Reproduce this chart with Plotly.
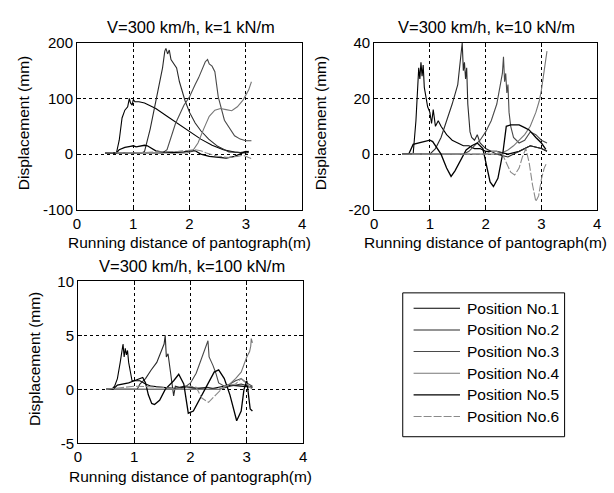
import plotly.graph_objects as go

W, H = 614, 493

# ---------------- data ----------------
SERIES_NAMES = ["Position No.1", "Position No.2", "Position No.3",
                "Position No.4", "Position No.5", "Position No.6"]
X_TICKS = [0, 1, 2, 3, 4]
X_TICK_TEXT = ["0", "1", "2", "3", "4"]

TITLES = ["V=300 km/h, k=1 kN/m", "V=300 km/h, k=10 kN/m", "V=300 km/h, k=100 kN/m"]
X_LABEL = "Running distance of pantograph(m)"
Y_LABEL = "Displacement (mm)"

# k = 1 kN/m
K1_Y_TICKS = [-100, 0, 100, 200]
K1_Y_TICK_TEXT = ["-100", "0", "100", "200"]
K1_X1 = [0.5, 0.7, 0.75, 0.8, 0.85, 0.9, 0.93, 0.95, 0.98, 1.0, 1.03, 1.1, 1.2, 1.4, 1.6, 1.8, 2.0, 2.2, 2.4, 2.6, 2.8, 3.0, 3.05]
K1_Y1 = [2, 2, 25, 65, 79, 85, 100, 92, 88, 98, 94, 94, 92, 82, 68, 54, 40, 27, 16, 8, 4, 2, 3]
K1_X2 = [0.5, 1.15, 1.2, 1.3, 1.38, 1.45, 1.52, 1.56, 1.58, 1.61, 1.64, 1.67, 1.72, 1.77, 1.82, 1.92, 2.0, 2.1, 2.2, 2.34, 2.5, 2.7, 2.9, 3.05]
K1_Y2 = [2, 2, 5, 45, 85, 120, 155, 185, 190, 180, 187, 170, 162, 155, 130, 96, 75, 56, 42, 27, 14, 4, 3, 5]
K1_X3 = [0.5, 1.52, 1.6, 1.75, 1.9, 2.0, 2.1, 2.16, 2.28, 2.32, 2.35, 2.4, 2.45, 2.51, 2.62, 2.7, 2.8, 2.9, 3.0, 3.1]
K1_Y3 = [2, 2, 8, 55, 88, 103, 125, 137, 166, 170, 162, 158, 148, 103, 61, 48, 33, 27, 24, 24]
K1_X4 = [0.5, 1.95, 2.05, 2.15, 2.25, 2.35, 2.45, 2.55, 2.65, 2.75, 2.85, 2.95, 3.05, 3.1]
K1_Y4 = [2, 2, 5, 20, 45, 68, 79, 82, 80, 78, 85, 97, 115, 130]
K1_X5 = [0.5, 0.7, 0.75, 0.85, 0.95, 1.0, 1.05, 1.15, 1.2, 1.25, 1.3, 1.4, 1.5, 1.7, 1.9, 2.0, 2.1, 2.2, 2.35, 2.5, 2.65, 2.8, 2.9, 3.0, 3.05]
K1_Y5 = [2, 2, 8, 12, 14, 15, 13, 15, 16, 15, 12, 6, 4, 3, 4, 6, 6, 0, -4, -6, -7, -4, 0, 5, 4]
K1_X6 = [0.5, 0.8, 1.0, 1.2, 1.4, 1.6, 1.8, 2.0, 2.1, 2.2, 2.3, 2.5, 2.7, 2.85, 2.95, 3.05, 3.1]
K1_Y6 = [2, 2, 3, 3, 4, 4, 5, 7, 8, 6, 2, -4, -6, -4, -2, -6, -8]

# k = 10 kN/m
K10_Y_TICKS = [-20, 0, 20, 40]
K10_Y_TICK_TEXT = ["-20", "0", "20", "40"]
K10_X1 = [0.5, 0.7, 0.75, 0.78, 0.8, 0.82, 0.84, 0.86, 0.88, 0.9, 0.93, 0.96, 1.0, 1.03, 1.06, 1.1, 1.15, 1.2, 1.3, 1.4, 1.5, 1.6, 1.7, 1.8, 1.9, 2.0, 2.2, 2.4, 2.6, 2.8, 3.0, 3.1]
K10_Y1 = [0, 0, 12, 25, 31, 27, 33, 28, 32, 24, 20, 17, 15, 11, 16, 10, 12, 10, 7, 5, 4, 3, 3, 2, 2, 1, 1, 0, 1, 3, 2, 1]
K10_X2 = [0.5, 1.0, 1.1, 1.2, 1.3, 1.4, 1.5, 1.54, 1.58, 1.6, 1.62, 1.64, 1.66, 1.68, 1.7, 1.72, 1.75, 1.8, 1.85, 1.9, 2.0, 2.2, 2.4, 2.6, 2.8, 3.0, 3.1]
K10_Y2 = [0, 0, 2, 6, 12, 18, 25, 33, 40, 30, 33, 27, 31, 18, 12, 8, 6, 5, 7, 4, 2, 0, -1, 1, 3, 2, 1]
K10_X3 = [0.5, 1.6, 1.7, 1.8, 1.9, 2.0, 2.1, 2.2, 2.25, 2.3, 2.32, 2.34, 2.36, 2.38, 2.4, 2.42, 2.45, 2.5, 2.6, 2.7, 2.8, 2.9, 3.0, 3.1]
K10_Y3 = [0, 0, 1, 3, 5, 8, 12, 18, 24, 29, 35, 26, 29, 22, 25, 15, 10, 6, 4, 5, 8, 7, 5, 4]
K10_X4 = [0.5, 2.2, 2.3, 2.4, 2.5, 2.6, 2.7, 2.8, 2.9, 2.96, 3.0, 3.05, 3.1]
K10_Y4 = [0, 0, 0.5, 1.5, 3, 5, 7, 10, 15, 19, 23, 30, 37]
K10_X5 = [0.5, 0.62, 0.7, 0.8, 0.9, 1.0, 1.05, 1.1, 1.2, 1.3, 1.38, 1.45, 1.55, 1.65, 1.75, 1.85, 1.95, 2.02, 2.08, 2.14, 2.22, 2.31, 2.37, 2.45, 2.6, 2.7, 2.78, 2.9, 3.0, 3.08]
K10_Y5 = [0, 0, 3.5, 4, 4.5, 5, 4.5, 3, 0, -5, -8, -6, -2, 1.5, 3, 4, 2, -5, -10, -11.6, -8.7, 0.6, 10, 10.5, 10.5, 9.5, 8.7, 6, 4, 1.7]
K10_X6 = [0.5, 2.0, 2.1, 2.2, 2.3, 2.4, 2.45, 2.52, 2.6, 2.66, 2.72, 2.78, 2.84, 2.9, 2.95, 3.0, 3.05, 3.1]
K10_Y6 = [0, 0, 1, 1, 0, -4, -6.5, -7.5, -5, -1, 2, -3, -11, -17, -15, -9, -5, -3]

# k = 100 kN/m
K100_Y_TICKS = [-5, 0, 5, 10]
K100_Y_TICK_TEXT = ["-5", "0", "5", "10"]
K100_X1 = [0.5, 0.6, 0.65, 0.7, 0.75, 0.78, 0.8, 0.82, 0.84, 0.86, 0.88, 0.9, 0.93, 0.96, 1.0, 1.1, 1.2, 1.3, 1.5, 1.7, 1.9, 2.1, 2.3, 2.5, 2.7, 2.9, 3.1]
K100_Y1 = [0, 0, 0.3, 1, 2.5, 3.5, 4.2, 3, 3.8, 3.2, 3.6, 2.5, 1.5, 0.8, 0.8, 0.8, 0.5, 0.3, 0.2, 0.1, 0.2, 0.1, 0, 0.2, 0.4, 0.3, 0.2]
K100_X2 = [0.5, 1.05, 1.1, 1.2, 1.3, 1.4, 1.5, 1.53, 1.55, 1.57, 1.6, 1.63, 1.67, 1.7, 1.73, 1.8, 1.9, 2.1, 2.3, 2.5, 2.7, 2.9, 3.1]
K100_Y2 = [0, 0, 0.5, 1, 1.8, 2.5, 3.8, 4.2, 5, 3, 3.3, 2, 0.5, -0.6, 0.3, 0.2, 0.3, 0.1, 0.2, 0, 0.3, 0.5, 0.2]
K100_X3 = [0.5, 1.8, 1.9, 2.0, 2.1, 2.2, 2.28, 2.31, 2.33, 2.36, 2.4, 2.45, 2.5, 2.6, 2.7, 2.8, 2.9, 3.0, 3.1]
K100_Y3 = [0, 0, 0.2, 0.6, 1.5, 3, 4, 4.5, 3, 2.7, 2.2, 1.5, 0.6, 0.3, 0.5, 0.8, 1, 0.6, 0.3]
K100_X4 = [0.5, 2.5, 2.6, 2.7, 2.8, 2.9, 2.95, 3.0, 3.05, 3.07, 3.08, 3.1]
K100_Y4 = [0, 0, 0.2, 0.5, 1, 1.6, 2.3, 3, 3.5, 4, 4.7, 4.3]
K100_X5 = [0.5, 0.62, 0.7, 0.9, 1.0, 1.1, 1.15, 1.2, 1.25, 1.31, 1.36, 1.45, 1.55, 1.7, 1.79, 1.88, 1.96, 2.05, 2.15, 2.3, 2.42, 2.5, 2.6, 2.7, 2.82, 2.9, 2.95, 3.0, 3.06, 3.1]
K100_Y5 = [0, 0, 0.4, 0.6, 0.8, 1, 1.1, 0.6, -0.5, -1.3, -1.4, -1, 0, 0.8, 1.4, 0.5, -2.2, -2, -1, 0.5, 1.6, 1.8, 1, -0.5, -2.9, -2, 0, 0.8, -1.8, -2]
K100_X6 = [0.5, 1.0, 1.5, 1.8, 2.0, 2.1, 2.2, 2.32, 2.45, 2.6, 2.8, 2.9, 3.0, 3.1]
K100_Y6 = [0, 0.3, 0.2, 0, 0.3, 0.2, -0.8, -1.2, -0.5, 0.3, 0.5, 1, 0.5, 0]

# ---------------- style ----------------
COLORS = ["#000000", "#2a2a2a", "#4a4a4a", "#777777", "#000000", "#8a8a8a"]
DASHES = ["solid", "solid", "solid", "solid", "solid", "8px,2px"]
WIDTHS = [1.1, 1.1, 1.1, 1.1, 1.3, 1.1]
FONT = "Liberation Sans, Arial, sans-serif"
FS_TICK = 15
FS_LABEL = 15.5
FS_TITLE = 16.5


def px(x):
    return x / W


def py(y):
    return 1 - y / H


fig = go.Figure()

panels = [
    dict(xs=[K1_X1, K1_X2, K1_X3, K1_X4, K1_X5, K1_X6],
         ys=[K1_Y1, K1_Y2, K1_Y3, K1_Y4, K1_Y5, K1_Y6],
         yt=K1_Y_TICKS, ytt=K1_Y_TICK_TEXT, box=(74, 35, 302, 208), ylx=20),
    dict(xs=[K10_X1, K10_X2, K10_X3, K10_X4, K10_X5, K10_X6],
         ys=[K10_Y1, K10_Y2, K10_Y3, K10_Y4, K10_Y5, K10_Y6],
         yt=K10_Y_TICKS, ytt=K10_Y_TICK_TEXT, box=(375, 35, 601, 208), ylx=321),
    dict(xs=[K100_X1, K100_X2, K100_X3, K100_X4, K100_X5, K100_X6],
         ys=[K100_Y1, K100_Y2, K100_Y3, K100_Y4, K100_Y5, K100_Y6],
         yt=K100_Y_TICKS, ytt=K100_Y_TICK_TEXT, box=(75, 282, 303, 450), ylx=31),
]

annotations = []
for i, p in enumerate(panels):
    suffix = "" if i == 0 else str(i + 1)
    xa, ya = "x" + suffix, "y" + suffix
    for j in range(6):
        fig.add_trace(go.Scatter(
            x=p["xs"][j], y=p["ys"][j], mode="lines", name=SERIES_NAMES[j],
            line=dict(color=COLORS[j], width=WIDTHS[j], dash=DASHES[j]),
            xaxis=xa, yaxis=ya, showlegend=False))
    x0, y0, x1, y1 = p["box"]
    common = dict(showline=True, mirror="ticks", linecolor="black", linewidth=1,
                  ticks="inside", ticklen=4, tickcolor="black",
                  showgrid=True, gridcolor="black", gridwidth=1, griddash="3px,3px",
                  zeroline=False, tickfont=dict(family=FONT, size=FS_TICK, color="black"))
    fig.update_layout(**{
        "xaxis" + suffix: dict(domain=[px(x0), px(x1)], range=[0, 4],
                               tickvals=X_TICKS, ticktext=X_TICK_TEXT,
                               anchor=ya, **common),
        "yaxis" + suffix: dict(domain=[py(y1), py(y0)], range=[p["yt"][0], p["yt"][-1]],
                               tickvals=p["yt"], ticktext=p["ytt"],
                               anchor=xa, **common),
    })
    cx = (x0 + x1) / 2
    annotations.append(dict(text=TITLES[i], x=px(cx + 1), y=py(y0 - 16), xref="paper", yref="paper",
                            showarrow=False, xanchor="center", yanchor="middle",
                            font=dict(family=FONT, size=FS_TITLE, color="black")))
    annotations.append(dict(text=X_LABEL, x=px(cx), y=py(y1 + 34), xref="paper", yref="paper",
                            showarrow=False, xanchor="center", yanchor="middle",
                            font=dict(family=FONT, size=FS_LABEL, color="black")))
    annotations.append(dict(text=Y_LABEL, x=px(p["ylx"]), y=py((y0 + y1) / 2 - 3), xref="paper", yref="paper",
                            showarrow=False, xanchor="center", yanchor="middle", textangle=-90,
                            font=dict(family=FONT, size=FS_LABEL, color="black")))

# manual legend box
shapes = [dict(type="rect", xref="paper", yref="paper",
               x0=px(404), x1=px(568), y0=py(443), y1=py(294),
               line=dict(color="black", width=1), fillcolor="white")]
row0, gap = 310, 22.4
for j in range(6):
    yy = row0 + j * gap
    shapes.append(dict(type="line", xref="paper", yref="paper",
                       x0=px(415), x1=px(462), y0=py(yy), y1=py(yy),
                       line=dict(color=COLORS[j], width=WIDTHS[j], dash=DASHES[j])))
    annotations.append(dict(text=SERIES_NAMES[j], x=px(467), y=py(yy), xref="paper", yref="paper",
                            showarrow=False, xanchor="left", yanchor="middle",
                            font=dict(family=FONT, size=FS_LABEL, color="black")))

fig.update_layout(width=W, height=H, margin=dict(l=0, r=0, t=0, b=0),
                  paper_bgcolor="white", plot_bgcolor="white",
                  showlegend=False, shapes=shapes, annotations=annotations)

fig.write_html("out.html")
